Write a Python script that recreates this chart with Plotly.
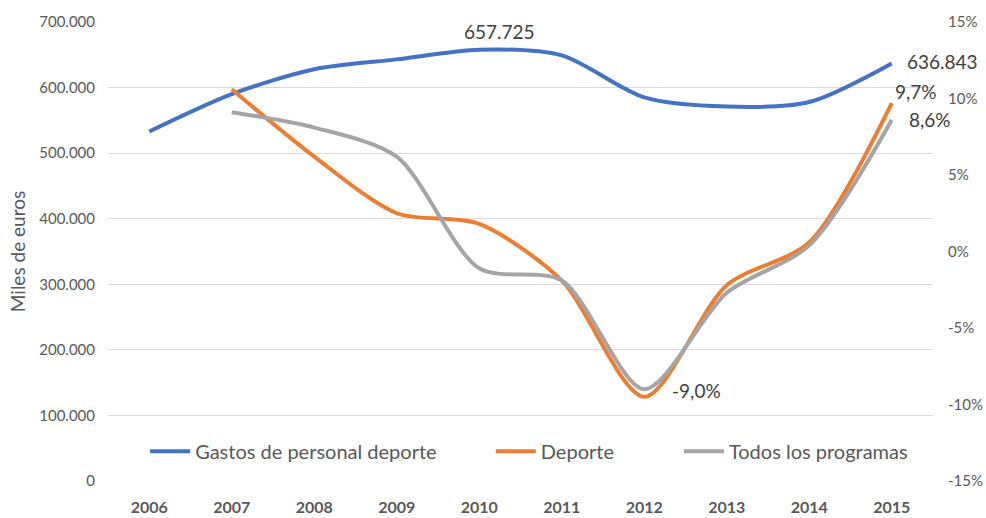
import plotly.graph_objects as go

years = ["2006", "2007", "2008", "2009", "2010", "2011", "2012", "2013", "2014", "2015"]
gastos = [533000, 590000, 628000, 643000, 657725, 649000, 585000, 571000, 578000, 636843]
deporte_years = years[1:]
deporte = [10.6, 6.2, 2.5, 1.8, -1.9, -9.5, -2.2, 0.6, 9.7]
todos = [9.1, 8.1, 6.2, -1.1, -1.9, -9.0, -2.7, 0.4, 8.6]

left_ticks = [0, 100000, 200000, 300000, 400000, 500000, 600000, 700000]
right_ticks = [-15, -10, -5, 0, 5, 10, 15]
right_text = ["-15%", "-10%", "-5%", "0%", "5%", "10%", "15%"]

FONT = "Lato"
BLUE = "#4472C4"
ORANGE = "#ED7D31"
GRAY = "#A5A5A5"
TXT = "#595959"

fig = go.Figure()
fig.add_trace(go.Scatter(x=years, y=gastos, name="Gastos de personal deporte", mode="lines",
                         line=dict(color=BLUE, width=4, shape="spline", smoothing=0.8),
                         legend="legend", showlegend=True, yaxis="y"))
fig.add_trace(go.Scatter(x=deporte_years, y=deporte, name="Deporte", mode="lines",
                         line=dict(color=ORANGE, width=4, shape="spline", smoothing=0.8),
                         legend="legend2", showlegend=True, yaxis="y2"))
fig.add_trace(go.Scatter(x=deporte_years, y=todos, name="Todos los programas", mode="lines",
                         line=dict(color=GRAY, width=4, shape="spline", smoothing=0.8),
                         legend="legend3", showlegend=True, yaxis="y2"))

i2010 = years.index("2010")
i2012 = years.index("2012")
i2015 = years.index("2015")

lab_font = dict(family=FONT, size=19, color="#404040")
anns = [
    dict(x=i2010, y=gastos[i2010], xref="x", yref="y", text="657.725", showarrow=False,
         xshift=20, yshift=18, font=lab_font),
    dict(x=i2015, y=gastos[i2015], xref="x", yref="y", text="636.843", showarrow=False,
         xanchor="left", xshift=13, yshift=2, font=lab_font),
    dict(x=i2015, y=deporte[-1], xref="x", yref="y2", text="9,7%", showarrow=False,
         xanchor="left", xshift=1, yshift=12, font=lab_font),
    dict(x=i2015, y=todos[-1], xref="x", yref="y2", text="8,6%", showarrow=False,
         xanchor="left", xshift=15, yshift=0, font=lab_font),
    dict(x=i2012, y=todos[i2012 - 1], xref="x", yref="y2", text="-9,0%", showarrow=False,
         xanchor="left", xshift=26, yshift=-1, font=lab_font),
]

leg_font = dict(family=FONT, size=20, color=TXT)
leg_common = dict(y=0.065, orientation="h", yanchor="middle", xanchor="left",
                  font=leg_font, bgcolor="rgba(0,0,0,0)", itemwidth=40)

fig.update_layout(
    width=986, height=518,
    margin=dict(l=108, r=53, t=22, b=37, autoexpand=False),
    paper_bgcolor="white", plot_bgcolor="white",
    separators=",.",
    font=dict(family=FONT, color=TXT),
    xaxis=dict(type="category", range=[-0.5, 9.5], showgrid=False, showline=False,
               ticks="", ticklabelstandoff=15, automargin=False,
               tickfont=dict(family=FONT, size=16, color=TXT, weight="bold")),
    yaxis=dict(range=[0, 700000], tickvals=left_ticks, tickformat=",.0f", automargin=False,
               showgrid=True, gridcolor="#D9D9D9", gridwidth=1, zeroline=False,
               tickfont=dict(family=FONT, size=15, color=TXT), ticks="", ticklabelstandoff=12,
               title=dict(text="Miles de euros", font=dict(family=FONT, size=19, color=TXT), standoff=8)),
    yaxis2=dict(range=[-15, 15], overlaying="y", side="right", tickvals=right_ticks, automargin=False,
                ticktext=right_text, showgrid=False, zeroline=False, ticks="", ticklabelstandoff=14,
                tickfont=dict(family=FONT, size=15, color=TXT)),
    legend=dict(x=0.045, **leg_common),
    legend2=dict(x=0.464, **leg_common),
    legend3=dict(x=0.692, **leg_common),
    annotations=anns,
)

fig.write_html("out.html", post_script="document.body.style.margin='0';",
               config={"displayModeBar": False})
